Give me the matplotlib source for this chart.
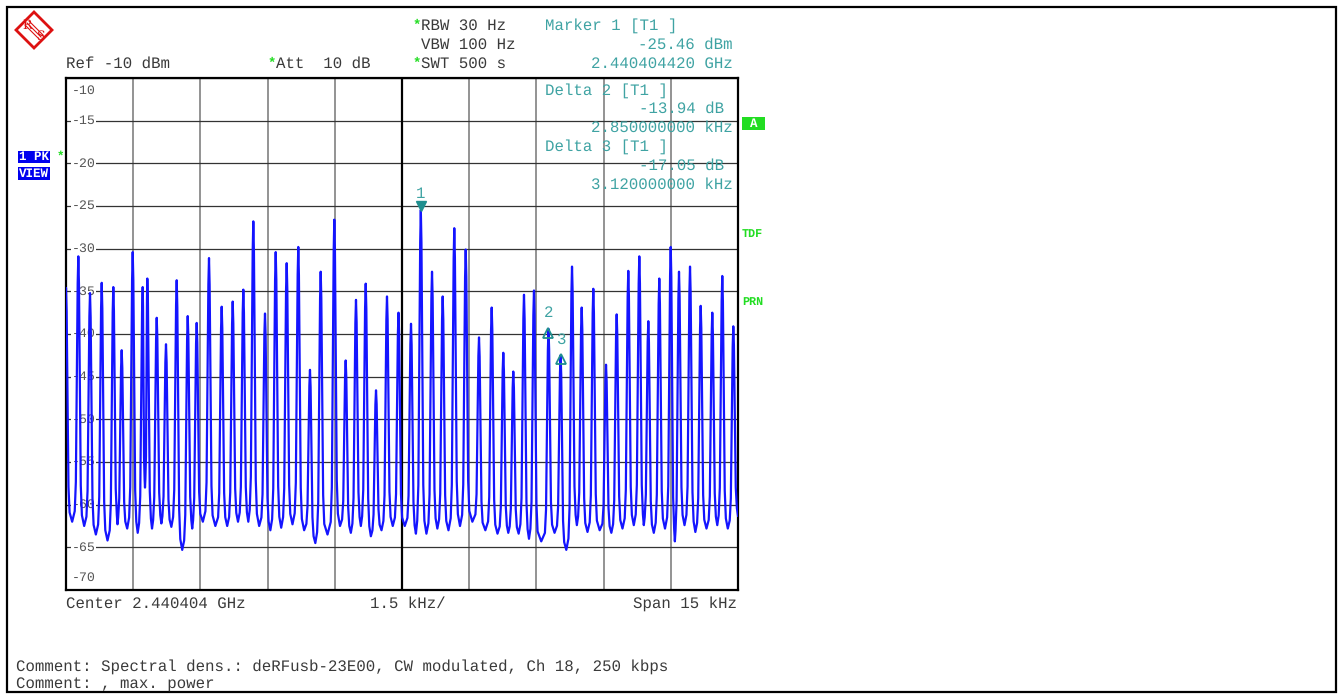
import numpy as np
import matplotlib
matplotlib.use("Agg")
import matplotlib.pyplot as plt
from matplotlib.patches import Rectangle, Polygon
from matplotlib.lines import Line2D
import matplotlib.transforms as mtransforms

plt.rcParams["text.hinting"] = "no_hinting"

# ---------------- data ----------------
center_ghz = 2.440404
span_khz = 15.0
ref_dbm = -10
y_ticks = [-10, -15, -20, -25, -30, -35, -40, -45, -50, -55, -60, -65, -70]

# spectral lines: offset from centre (kHz) and level (dBm)
peak_khz = [-7.500, -7.225, -6.964, -6.703, -6.444, -6.257, -6.011, -5.788, -5.685, -5.475,
            -5.268, -5.029, -4.783, -4.583, -4.308, -4.025, -3.779, -3.542, -3.319, -3.058,
            -2.819, -2.574, -2.315, -2.054, -1.815, -1.511, -1.257, -1.027, -0.810, -0.580,
            -0.335, -0.078, 0.201, 0.420, 0.670, 0.908, 1.167, 1.422, 1.719, 2.002,
            2.261, 2.484, 2.723, 2.946, 3.270, 3.540, 3.795, 4.011, 4.270, 4.554,
            4.792, 5.051, 5.297, 5.498, 5.743, 5.998, 6.183, 6.429, 6.667, 6.926,
            7.149, 7.395]
peak_dbm = [-34.6, -30.9, -35.2, -34.0, -34.5, -41.9, -30.4, -34.5, -33.5, -38.1,
            -41.2, -33.7, -37.9, -38.7, -31.1, -36.8, -36.2, -34.8, -26.8, -37.6,
            -30.4, -31.7, -29.8, -44.2, -32.7, -26.6, -43.1, -36.0, -34.1, -46.6,
            -35.6, -37.5, -38.8, -25.46, -32.7, -35.6, -27.6, -30.1, -40.4, -36.9,
            -42.2, -44.4, -35.4, -34.9, -39.4, -42.5, -32.1, -36.9, -34.7, -43.6,
            -37.7, -32.6, -30.9, -38.5, -33.5, -29.8, -32.7, -32.1, -36.7, -37.5,
            -33.2, -39.1]
# noise floor between consecutive lines (dBm)
valley_dbm = [-62.0, -62.5, -63.5, -64.2, -62.3, -62.8, -63.3, -58.0, -62.8, -62.2,
              -62.6, -65.3, -62.8, -62.0, -62.5, -62.5, -62.0, -62.0, -62.5, -63.0,
              -62.7, -62.3, -63.0, -64.5, -63.5, -62.5, -63.3, -62.5, -63.7, -63.0,
              -62.5, -62.5, -63.4, -63.4, -62.8, -63.0, -62.5, -62.0, -63.0, -63.4,
              -63.3, -63.4, -64.0, -64.3, -63.3, -65.3, -62.4, -63.2, -63.0, -63.3,
              -62.8, -62.4, -62.4, -63.3, -62.8, -64.3, -62.4, -63.2, -62.8, -62.4,
              -62.8]
end_dbm = -61.3

# markers
marker1_ghz = 2.440404420
marker1_dbm = -25.46
delta_khz = [2.85, 3.12]
delta_db = [-13.94, -17.05]

# ---------------- build trace vertices ----------------
# line shape (style): offsets in kHz and fraction of the drop from peak to floor
shape_off = [0.014, 0.035, 0.055, 0.08]
shape_frac = [0.1, 0.5, 0.85, 0.96]

pk = np.array(peak_khz)
fx, fy = [], []
n = len(pk)
for i in range(n):
    f, p = pk[i], peak_dbm[i]
    vL = valley_dbm[i - 1] if i > 0 else valley_dbm[0]
    vR = valley_dbm[i] if i < n - 1 else end_dbm
    gL = (pk[i] - pk[i - 1]) if i > 0 else 0.25
    gR = (pk[i + 1] - pk[i]) if i < n - 1 else 0.25
    sL = min(1.0, 0.42 * gL / shape_off[-1])
    sR = min(1.0, 0.42 * gR / shape_off[-1])
    if i > 0:
        fx.append(0.5 * (pk[i - 1] + pk[i])); fy.append(vL)
    for o, fr in zip(shape_off[::-1], shape_frac[::-1]):
        fx.append(f - o * sL); fy.append(p - fr * (p - vL))
    fx.append(f); fy.append(p)
    for o, fr in zip(shape_off, shape_frac):
        fx.append(f + o * sR); fy.append(p - fr * (p - vR))
fx.append(span_khz / 2); fy.append(end_dbm)

# ---------------- figure ----------------
W, H = 1343, 695
fig = plt.figure(figsize=(W / 100, H / 100), dpi=100)
FONT = ["Liberation Mono", "DejaVu Sans Mono"]
TXT = "#3a3a3a"
TEAL = "#3fa3a3"
GREEN = "#22dd22"
FS = 11.3


def fx_(x):
    return x / W


def fy_(y):
    return 1 - y / H


def ftext(x, y, s, **kw):
    kw.setdefault("family", FONT)
    kw.setdefault("fontsize", FS)
    kw.setdefault("va", "center")
    return fig.text(fx_(x), fy_(y), s, **kw)


# outer frame
fig.patches.append(Rectangle((fx_(7), fy_(692)), fx_(1336) - fx_(7), fy_(7) - fy_(692),
                             transform=fig.transFigure, fill=False, ec="black", lw=1.6))

ax = fig.add_axes([fx_(66), fy_(590), fx_(738) - fx_(66), fy_(78) - fy_(590)])
ax.set_xlim(-span_khz / 2, span_khz / 2)
ax.set_ylim(y_ticks[-1], y_ticks[0])
ax.set_xticks(np.arange(-span_khz / 2, span_khz / 2 + 0.001, span_khz / 10))
ax.set_yticks(y_ticks)
ax.tick_params(length=0, labelbottom=False, labelleft=False)
ax.xaxis.grid(True, color="#8a8a8a", lw=1.3)
ax.yaxis.grid(True, color="#333333", lw=0.9)
ax.set_axisbelow(True)
ax.axvline(0, color="black", lw=1.6, zorder=1.5)
for s in ax.spines.values():
    s.set_linewidth(1.6)
    s.set_color("black")

# y labels inside the plot
blend = mtransforms.blended_transform_factory(ax.transAxes, ax.transData)
for v in y_ticks:
    if v == y_ticks[0]:
        va, dy = "top", -6
    elif v == y_ticks[-1]:
        va, dy = "bottom", 6
    else:
        va, dy = "center", 0
    ax.annotate(f"{v}", xy=(0, v), xycoords=blend, xytext=(6, dy), textcoords="offset pixels",
                ha="left", va=va, family=FONT, fontsize=9.5, color="#555555", zorder=2,
                bbox=dict(facecolor="white", edgecolor="none", pad=0.4) if va == "center" else None)

# trace
ax.plot(fx, fy, color="#1414ff", lw=1.6, zorder=3)

# markers
m1_khz = (marker1_ghz - center_ghz) * 1e6
mk_f = [m1_khz] + [m1_khz + d for d in delta_khz]
mk_l = [marker1_dbm] + [marker1_dbm + d for d in delta_db]
ax.plot(mk_f[0], mk_l[0] + 0.45, marker="v", color="#1f8f8f", ms=6.5, zorder=4, clip_on=False)
ax.annotate("1", xy=(mk_f[0], mk_l[0]), xytext=(0, 16), textcoords="offset pixels",
            ha="center", va="center", family=FONT, fontsize=FS, color=TEAL)
for k in (1, 2):
    ax.plot(mk_f[k], mk_l[k] - 0.45, marker="^", mfc="none", mec="#1f8f8f", mew=1.3,
            ms=6.5, zorder=4)
    ax.annotate(str(k + 1), xy=(mk_f[k], mk_l[k]), xytext=(0, 16), textcoords="offset pixels",
                ha="center", va="center", family=FONT, fontsize=FS, color=TEAL)

# header texts
ftext(413, 25, "*", color=GREEN, fontsize=10, fontweight="bold")
ftext(421, 26, "RBW 30 Hz", color=TXT)
ftext(421, 45, "VBW 100 Hz", color=TXT)
ftext(413, 63, "*", color=GREEN, fontsize=10, fontweight="bold")
ftext(421, 64, "SWT 500 s", color=TXT)
ftext(66, 64, f"Ref {ref_dbm} dBm", color=TXT)
ftext(268, 63, "*", color=GREEN, fontsize=10, fontweight="bold")
ftext(276, 64, "Att  10 dB", color=TXT)

ftext(545, 26, "Marker 1 [T1 ]", color=TEAL)
ftext(733, 45, f"{marker1_dbm:.2f} dBm", color=TEAL, ha="right")
ftext(733, 64, f"{marker1_ghz:.9f} GHz", color=TEAL, ha="right")
ftext(545, 91, "Delta 2 [T1 ]", color=TEAL)
ftext(724, 109, f"{delta_db[0]:.2f} dB", color=TEAL, ha="right")
ftext(733, 128, f"{delta_khz[0]:.9f} kHz", color=TEAL, ha="right")
ftext(545, 147, "Delta 3 [T1 ]", color=TEAL)
ftext(724, 166, f"{delta_db[1]:.2f} dB", color=TEAL, ha="right")
ftext(733, 185, f"{delta_khz[1]:.9f} kHz", color=TEAL, ha="right")

# bottom texts
ftext(66, 604, f"Center {center_ghz:.6f} GHz", color=TXT)
ftext(408, 604, f"{span_khz / 10:.1f} kHz/", color=TXT, ha="center")
ftext(737, 604, f"Span {span_khz:.0f} kHz", color=TXT, ha="right")
ftext(16, 667, "Comment: Spectral dens.: deRFusb-23E00, CW modulated, Ch 18, 250 kbps", color=TXT)
ftext(16, 685, "Comment: , max. power", color=TXT)

# left status boxes
for (y0, y1, s) in [(151, 163, "1 PK"), (167, 180, "VIEW")]:
    fig.patches.append(Rectangle((fx_(18), fy_(y1)), fx_(50) - fx_(18), fy_(y0) - fy_(y1),
                                 transform=fig.transFigure, color="#0000ee", lw=0))
    ftext(34, (y0 + y1) / 2, s, color="white", fontsize=9, fontweight="bold", ha="center")
ftext(57, 156, "*", color=GREEN, fontsize=9, fontweight="bold")

# right side indicators
fig.patches.append(Rectangle((fx_(742), fy_(130)), fx_(765) - fx_(742), fy_(117) - fy_(130),
                             transform=fig.transFigure, color=GREEN, lw=0))
ftext(753.5, 123.5, "A", color="white", fontsize=9, fontweight="bold", ha="center")
ftext(742, 234, "TDF", color=GREEN, fontsize=8.5, fontweight="bold")
ftext(742, 302, "PRN", color=GREEN, fontsize=8.5, fontweight="bold")

# R&S logo
cx, cy, r = 34, 30, 18
RED = "#dd1111"
fig.patches.append(Polygon([(fx_(cx), fy_(cy - r)), (fx_(cx + r), fy_(cy)), (fx_(cx), fy_(cy + r)),
                            (fx_(cx - r), fy_(cy))], closed=True, transform=fig.transFigure,
                           fill=False, ec=RED, lw=2.0))
for o in (-2, 0, 2):
    x0, y0 = cx - 7 + o, cy - 7 - o
    x1, y1 = cx + 7 + o, cy + 7 - o
    fig.lines.append(Line2D([fx_(x0), fx_(x1)], [fy_(y0), fy_(y1)], transform=fig.transFigure,
                            color=RED, lw=0.8))
ftext(27, 25, "R", color=RED, fontsize=9, ha="center", family=["DejaVu Serif"])
ftext(41, 36, "S", color=RED, fontsize=9, ha="center", family=["DejaVu Serif"])

fig.savefig("out.png", dpi=100)
